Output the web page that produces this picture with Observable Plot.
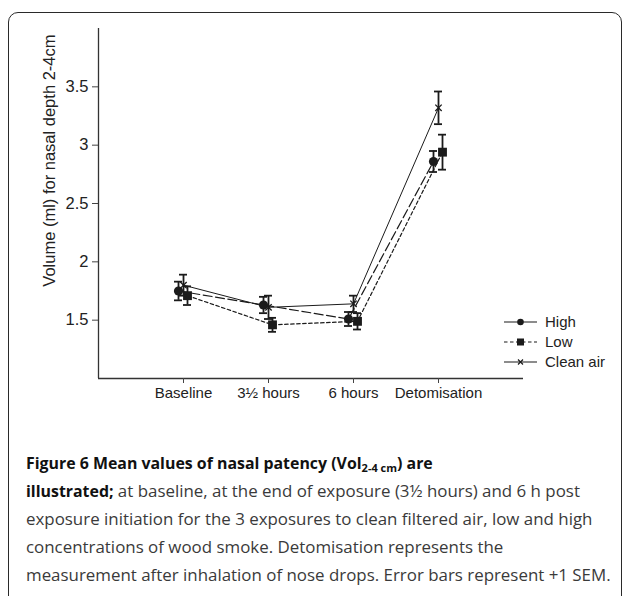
<!DOCTYPE html>
<html>
<head>
<meta charset="utf-8">
<script src="https://cdn.jsdelivr.net/npm/d3@7"></script>
<script src="https://cdn.jsdelivr.net/npm/@observablehq/plot@0.6"></script>
<style>
  html, body { margin: 0; padding: 0; background: #fff; }
  #wrap { position: relative; width: 627px; height: 596px; overflow: hidden; background: #fff; }
  #box { position: absolute; left: 8px; top: 12px; width: 612px; height: 620px; border: 1.5px solid #2a2a2a; border-radius: 10px; }
  #chart { position: absolute; left: 0; top: 0; }
  #chart svg { font-family: "Liberation Sans", Arial, Helvetica, sans-serif !important; }
  #legend { position: absolute; left: 0; top: 0; }
  #caption { position: absolute; left: 26px; top: 449px; font-family: "Open Sans", sans-serif; font-size: 16.9px; line-height: 28px; color: #3a3a3a; white-space: nowrap; }
  #caption b { color: #111; font-size: 15.9px; }
  #caption sub { font-size: 11px; vertical-align: -3px; line-height: 0; }
</style>
</head>
<body>
<div id="wrap">
  <div id="box"></div>
  <div id="chart"></div>
  <div id="legend"></div>
  <div id="caption">
    <b>Figure 6 Mean values of nasal patency (Vol<sub>2-4 cm</sub>) are</b><br>
    <b>illustrated;</b> at baseline, at the end of exposure (3½ hours) and 6 h post<br>
    exposure initiation for the 3 exposures to clean filtered air, low and high<br>
    concentrations of wood smoke. Detomisation represents the<br>
    measurement after inhalation of nose drops. Error bars represent +1 SEM.
  </div>
</div>
<script>
const categories = ["Baseline", "3½ hours", "6 hours", "Detomisation"];
const seriesNames = ["High", "Low", "Clean air"];
const highValues = [1.75, 1.63, 1.51, 2.86];
const highSem = [0.08, 0.07, 0.06, 0.09];
const lowValues = [1.71, 1.46, 1.49, 2.94];
const lowSem = [0.08, 0.06, 0.07, 0.15];
const cleanValues = [1.80, 1.61, 1.64, 3.32];
const cleanSem = [0.09, 0.10, 0.07, 0.14];
const yTicks = [1.5, 2, 2.5, 3, 3.5];
const yDomain = [1, 4];
const xDomain = [0, categories.length + 1];
const yLabel = "Volume (ml) for nasal depth 2-4cm";

const ink = "#1b1b1b";
const styles = {
  "High": {values: highValues, sem: highSem, dx: -5, dash: "9,3.5", width: 1.2, symbol: "circle", r: 4.6, fill: ink, stroke: "none"},
  "Low": {values: lowValues, sem: lowSem, dx: 4, dash: "3.5,2.5", width: 1.2, symbol: "square", r: 5, fill: ink, stroke: "none"},
  "Clean air": {values: cleanValues, sem: cleanSem, dx: 0, dash: null, width: 1, symbol: "times", r: 3, fill: "none", stroke: ink}
};

const marks = [];
for (const name of seriesNames) {
  const s = styles[name];
  const rows = categories.map((c, i) => ({series: name, pos: i + 1, v: s.values[i], sem: s.sem[i]}));
  marks.push(Plot.line(rows, {x: "pos", y: "v", dx: s.dx, stroke: ink, strokeWidth: s.width, strokeDasharray: s.dash}));
  marks.push(Plot.ruleX(rows, {x: "pos", y1: d => d.v - d.sem, y2: d => d.v + d.sem, dx: s.dx, stroke: ink, strokeWidth: 1.8}));
  marks.push(Plot.ruleY(rows, {x1: "pos", x2: "pos", y: d => d.v + d.sem, dx: s.dx, insetLeft: -4, insetRight: -4, stroke: ink, strokeWidth: 1.8}));
  marks.push(Plot.ruleY(rows, {x1: "pos", x2: "pos", y: d => d.v - d.sem, dx: s.dx, insetLeft: -4, insetRight: -4, stroke: ink, strokeWidth: 1.8}));
  marks.push(Plot.dot(rows, {x: "pos", y: "v", dx: s.dx, symbol: s.symbol, r: s.r, fill: s.fill, stroke: s.stroke, strokeWidth: 1.3}));
}

const chart = Plot.plot({
  width: 627,
  height: 420,
  marginLeft: 98,
  marginRight: 104,
  marginTop: 28,
  marginBottom: 42,
  x: {type: "linear", domain: xDomain},
  y: {type: "linear", domain: yDomain},
  style: {fontFamily: "Liberation Sans, Arial, sans-serif", fontSize: "15px", color: "#222", background: "transparent", overflow: "visible"},
  marks: [
    Plot.ruleX([xDomain[0]], {stroke: "#333", strokeWidth: 1.3}),
    Plot.ruleY([yDomain[0]], {stroke: "#333", strokeWidth: 1.3}),
    Plot.axisY({ticks: yTicks, tickFormat: d => String(d), tickSize: 6, tickPadding: 4, label: null, stroke: "#444", fontSize: 16.5}),
    Plot.axisX({ticks: categories.map((c, i) => i + 1), tickFormat: t => categories[t - 1], tickSize: 5, tickPadding: 4, label: null, stroke: "#444", fontSize: 15}),
    Plot.text([yLabel], {frameAnchor: "top-left", rotate: -90, textAnchor: "end", dx: -55, dy: 6, fontSize: 16.5, fill: "#222"}),
    ...marks
  ]
});
document.getElementById("chart").appendChild(chart);

// legend
const lg = d3.select("#legend").append("svg").attr("width", 627).attr("height", 420)
  .style("font-family", "'Liberation Sans', Arial, sans-serif").style("font-size", "15px");
seriesNames.forEach((name, i) => {
  const s = styles[name];
  const y = 322 + i * 20;
  const g = lg.append("g");
  g.append("line").attr("x1", 504).attr("x2", 537).attr("y1", y).attr("y2", y)
    .attr("stroke", ink).attr("stroke-width", 1.1)
    .attr("stroke-dasharray", name === "Low" ? "3.5,2.5" : null);
  const cx = 520.5;
  if (s.symbol === "circle") g.append("circle").attr("cx", cx).attr("cy", y).attr("r", 3.3).attr("fill", ink);
  else if (s.symbol === "square") g.append("rect").attr("x", cx - 3.5).attr("y", y - 3.5).attr("width", 7).attr("height", 7).attr("fill", ink);
  else g.append("path").attr("d", `M${cx-2.5},${y-2.5}L${cx+2.5},${y+2.5}M${cx-2.5},${y+2.5}L${cx+2.5},${y-2.5}`).attr("stroke", ink).attr("stroke-width", 1.2);
  g.append("text").attr("x", 545).attr("y", y).attr("dy", "0.35em").attr("fill", "#222").text(name);
});
</script>
</body>
</html>
